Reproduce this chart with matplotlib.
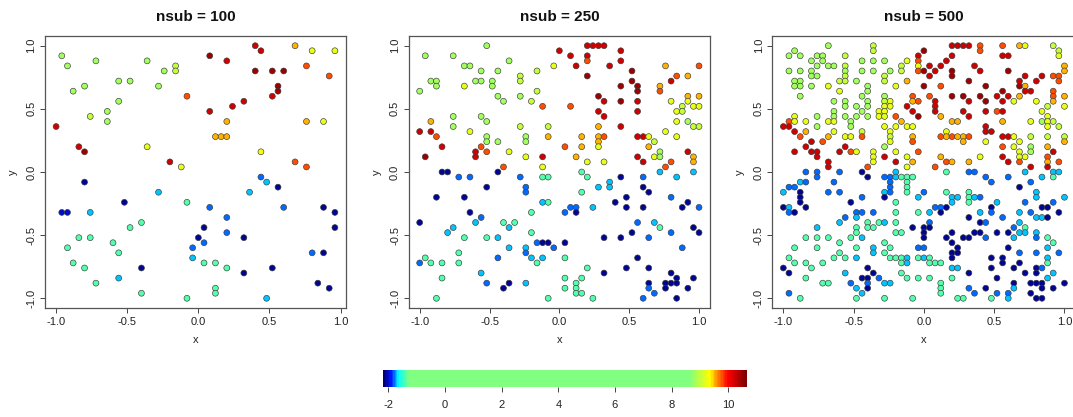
import matplotlib
matplotlib.use("Agg")
import matplotlib.pyplot as plt
from matplotlib.colors import LinearSegmentedColormap, Normalize
from matplotlib.cm import ScalarMappable

plt.rcParams['font.family'] = ['Liberation Sans', 'DejaVu Sans']
plt.rcParams['axes.unicode_minus'] = False

# ---------------- data ----------------
titles = ["nsub = 100", "nsub = 250", "nsub = 500"]
axis_ticks = [-1.0, -0.5, 0.0, 0.5, 1.0]
axis_tick_labels = ["-1.0", "-0.5", "0.0", "0.5", "1.0"]
cbar_ticks = [-2, 0, 2, 4, 6, 8, 10]
z_min, z_max = -2.18, 10.65

# colour scale stops (value, colour)
cmap_values = [-2.18, -1.92, -1.66, -1.30, 8.65, 9.37, 9.66, 10.00, 10.65]
cmap_colors = ["#00007a", "#0018ff", "#00ffff", "#80ff80", "#80ff80",
               "#ffff00", "#ff8000", "#ff0000", "#7f0000"]

# nsub = 100
x1 = [-0.96, -0.92, -0.88, -0.80, -0.72, -0.76, -0.64, -0.64, -0.56, -0.56,
      -0.48, -0.36, -0.28, -0.24, -0.16, -0.16, -0.36, -0.12, -0.20, -1.00,
      -0.84, -0.80, -0.08, 0.08, 0.08, 0.20, 0.24, 0.32, 0.20, 0.12,
      0.16, 0.20, 0.40, 0.44, 0.40, 0.52, 0.60, 0.56, 0.56, 0.52,
      0.68, 0.80, 0.96, 0.76, 0.92, 0.76, 0.88, 0.44, 0.68, 0.76,
      -0.80, -0.96, -0.92, -0.76, -0.52, -0.28, -0.08, -0.40, -0.48, -0.84,
      -0.76, -0.92, -0.60, -0.56, -0.88, -0.80, -0.72, -0.56, -0.40, -0.40,
      -0.08, -0.04, -0.04, 0.00, 0.04, 0.04, 0.08, 0.04, 0.12, 0.12,
      0.12, 0.20, 0.20, 0.20, 0.32, 0.32, 0.36, 0.44, 0.48, 0.56,
      0.60, 0.52, 0.48, 0.80, 0.88, 0.88, 0.96, 0.96, 0.84, 0.92]
y1 = [0.92, 0.84, 0.64, 0.68, 0.88, 0.44, 0.48, 0.40, 0.72, 0.56,
      0.72, 0.88, 0.68, 0.80, 0.84, 0.80, 0.20, 0.04, 0.08, 0.36,
      0.20, 0.16, 0.60, 0.92, 0.48, 0.88, 0.52, 0.56, 0.40, 0.28,
      0.28, 0.28, 1.00, 0.96, 0.80, 0.80, 0.80, 0.68, 0.64, 0.60,
      1.00, 0.96, 0.96, 0.84, 0.76, 0.40, 0.40, 0.16, 0.08, 0.04,
      -0.08, -0.32, -0.32, -0.32, -0.24, -0.16, -0.24, -0.40, -0.44, -0.52,
      -0.52, -0.60, -0.56, -0.64, -0.72, -0.76, -0.88, -0.84, -0.76, -0.96,
      -1.00, -0.60, -0.68, -0.52, -0.44, -0.56, -0.28, -0.72, -0.72, -0.92,
      -0.96, -0.36, -0.48, -0.76, -0.52, -0.80, -0.16, -0.04, -0.08, -0.12,
      -0.28, -0.76, -1.00, -0.64, -0.64, -0.28, -0.32, -0.44, -0.88, -0.92]
z1 = [8.8, 8.8, 8.8, 8.8, 8.8, 9.0, 8.8, 8.8, 8.8, 8.8,
      8.8, 8.8, 8.8, 8.8, 9.0, 9.0, 9.2, 9.2, 10.2, 10.2,
      10.2, 10.45, 9.75, 10.45, 10.2, 10.2, 10.2, 10.2, 9.5, 9.5,
      9.5, 9.5, 10.2, 10.2, 10.45, 10.45, 10.45, 10.45, 10.45, 10.2,
      9.5, 9.2, 9.2, 9.75, 9.75, 9.5, 9.2, 9.3, 9.75, 9.75,
      -2.1, -2.0, -2.0, -1.68, -2.1, -1.68, -1.38, -1.38, -1.38, -1.38,
      -1.38, -1.38, -1.38, -1.38, -1.38, -1.38, -1.38, -1.68, -2.1, -1.38,
      -1.38, -1.8, -1.68, -2.1, -2.1, -1.8, -1.8, -1.38, -1.38, -1.38,
      -1.38, -1.8, -1.8, -1.38, -2.1, -2.1, -1.68, -1.8, -1.68, -2.1,
      -1.8, -2.1, -1.68, -1.8, -2.1, -2.1, -2.1, -2.1, -2.1, -2.1]

# grid rows shared by nsub = 250 and nsub = 500
row_y = [1.00, 0.96, 0.92, 0.88, 0.84, 0.80, 0.76, 0.72, 0.68, 0.64,
         0.60, 0.56, 0.52, 0.48, 0.44, 0.40, 0.36, 0.32, 0.28, 0.24,
         0.20, 0.16, 0.12, 0.08, 0.04, 0.00, -0.04, -0.08, -0.12, -0.16,
         -0.20, -0.24, -0.28, -0.32, -0.36, -0.40, -0.44, -0.48, -0.52, -0.56,
         -0.60, -0.64, -0.68, -0.72, -0.76, -0.80, -0.84, -0.88, -0.92, -0.96,
         -1.00]

# nsub = 250 : x positions and values per row
rows_x2 = [
    [-0.52, 0.20, 0.24, 0.28, 0.32],
    [0.00, 0.44],
    [-0.96, -0.76, 0.08, 0.20],
    [-0.36, 0.20, 0.44],
    [-0.68, -0.64, -0.04, 0.12, 0.36, 0.76, 1.00],
    [-0.56, -0.44, -0.16, 0.52],
    [-0.28, 0.20, 0.84, 0.92],
    [-0.92, -0.88, -0.60, -0.56, -0.48, -0.28, 0.52, 0.80],
    [-0.88, -0.68, -0.48, 0.44, 0.56, 0.72],
    [-1.00, -0.16, 0.56, 0.72],
    [-0.44, -0.28, 0.28, 0.92, 1.00],
    [-0.40, -0.20, 0.32, 0.44, 0.56, 0.80, 0.92],
    [-0.12, 0.08, 0.88, 0.96, 1.00],
    [0.28, 0.56, 0.84, 0.88],
    [-0.76, -0.56, 0.32],
    [-0.92, -0.52, 0.84, 0.92],
    [-0.76, -0.28, -0.08, 0.28, 0.44, 0.96, 1.00],
    [-1.00, -0.92, -0.64, 0.76],
    [-0.88, -0.52, -0.24, -0.08, 0.16, 0.28, 0.32, 0.56, 0.60, 0.64, 0.84],
    [-0.52, -0.44, -0.24, 0.28, 0.68],
    [-0.84, -0.56, 0.04, 0.16, 0.28, 0.64],
    [-0.60, -0.52, -0.36, 0.72, 0.92],
    [-0.96, -0.60, -0.24, -0.12, 0.12, 0.56, 0.68, 0.72, 0.96],
    [0.20, 0.32, 0.60, 0.80, 0.96],
    [-0.40, -0.12, 0.76],
    [-0.84, -0.80, -0.44, 0.16, 0.72, 0.96],
    [-0.72, -0.64, -0.28, -0.12, -0.08, 0.20, 0.44, 0.60, 0.84],
    [0.36],
    [-0.52, -0.24, 0.28, 0.36, 0.60],
    [-0.24, 0.16, 0.64],
    [-0.88, -0.68, 0.48, 0.80],
    [-0.12, -0.08, 0.40, 0.92],
    [0.08, 0.12, 0.24, 0.48, 0.60, 0.88, 1.00],
    [-0.64, -0.20, 0.04, 0.12],
    [-0.56],
    [-1.00, -0.60, -0.40, -0.32, 0.56, 0.68],
    [-0.76, -0.36, 0.72, 0.96],
    [-0.80, -0.20, 0.52, 0.80, 1.00],
    [-0.68, -0.52, -0.44, 0.32, 0.44, 0.64],
    [-0.16, -0.12, -0.08, 0.04],
    [-0.36, -0.24, -0.04, 0.88],
    [-0.72, -0.24],
    [-0.96, -0.44, -0.20, -0.12, 0.04, 0.56],
    [-1.00, -0.92, -0.84, -0.72, -0.16],
    [0.20, 0.48, 0.64],
    [-0.56, 0.32, 0.80],
    [-0.84, 0.04, 0.16, 0.84, 0.96],
    [-0.52, -0.36, -0.24, 0.12, 0.64, 0.76, 0.80, 0.84],
    [-0.40, 0.04, 0.12, 0.64, 0.76, 0.92],
    [0.12, 0.16, 0.68],
    [-0.88, -0.08, 0.24, 0.60, 0.84],
]
rows_z2 = [
    [8.8, 10.2, 10.2, 10.2, 10.2],
    [10.2, 10.2],
    [8.8, 8.8, 10.2, 10.2],
    [8.8, 9.75, 10.2],
    [8.8, 8.8, 9.2, 10.2, 10.2, 9.5, 9.75],
    [8.8, 8.8, 9.0, 10.45],
    [9.0, 10.45, 9.75, 9.5],
    [8.8, 8.8, 8.8, 8.8, 8.8, 9.0, 10.45, 10.2],
    [8.8, 9.2, 8.8, 10.45, 10.45, 9.5],
    [8.8, 9.0, 10.45, 9.75],
    [8.8, 8.8, 10.45, 9.5, 9.5],
    [8.8, 9.0, 10.2, 10.45, 10.2, 9.2, 9.2],
    [9.75, 9.75, 9.0, 9.2, 9.2],
    [10.2, 10.2, 9.2, 9.0],
    [8.8, 8.8, 10.2],
    [9.5, 8.8, 9.2, 8.8],
    [8.8, 9.0, 9.0, 9.5, 10.2, 9.0, 9.0],
    [10.2, 10.2, 9.2, 9.2],
    [9.75, 8.8, 8.8, 9.5, 9.5, 9.5, 9.75, 10.2, 10.2, 9.2, 9.2],
    [8.8, 8.8, 8.8, 9.5, 9.0],
    [10.2, 9.75, 9.75, 9.5, 9.2, 9.5],
    [10.2, 9.75, 9.2, 8.8, 10.2],
    [10.45, 10.2, 9.2, 10.2, 9.5, 10.2, 9.2, 8.8, 9.5],
    [9.2, 9.2, 10.2, 9.75, 9.5],
    [9.75, 9.2, 9.75],
    [-2.1, -2.1, -2.1, -1.38, -1.68, -1.68],
    [-1.8, -1.8, -1.8, -1.38, -1.38, -1.38, -2.1, -1.8, -1.68],
    [-1.68],
    [-2.1, -1.8, -1.68, -1.68, -2.1],
    [-1.8, -1.38, -2.1],
    [-2.1, -2.1, -2.1, -1.8],
    [-1.68, -1.38, -2.1, -2.1],
    [-1.8, -1.8, -1.68, -2.1, -2.1, -2.1, -1.8],
    [-2.1, -1.38, -1.8, -2.1],
    [-1.8],
    [-2.1, -1.68, -1.38, -1.38, -1.8, -1.68],
    [-1.68, -1.68, -1.38, -2.1],
    [-1.68, -1.38, -2.1, -1.8, -2.1],
    [-1.38, -1.38, -1.68, -2.1, -2.1, -1.8],
    [-1.8, -2.1, -2.1, -2.1],
    [-1.68, -1.68, -1.8, -1.8],
    [-1.38, -1.8],
    [-1.38, -1.8, -1.68, -1.68, -1.38, -2.1],
    [-1.8, -1.38, -1.38, -1.38, -1.38],
    [-1.38, -2.1, -2.1],
    [-1.68, -2.1, -2.1],
    [-1.38, -1.38, -1.38, -2.1, -2.1],
    [-1.8, -2.1, -1.68, -1.38, -2.1, -2.1, -2.1, -2.1],
    [-2.1, -1.38, -1.38, -1.8, -2.1, -2.1],
    [-1.38, -1.38, -1.8],
    [-1.38, -1.38, -1.38, -1.8, -2.1],
]

# nsub = 500 : x positions and values per row
rows_x3 = [
    [-0.68, -0.36, 0.20, 0.24, 0.28, 0.32, 0.40, 0.56, 0.68, 0.72, 0.92],
    [-0.92, -0.36, 0.00, 0.40, 0.96],
    [-0.96, -0.88, -0.76, -0.72, -0.56, -0.04, 0.20, 0.56, 0.60, 0.96],
    [-0.80, -0.72, -0.44, -0.36, -0.28, -0.12, -0.04, 0.16],
    [-0.76, -0.68, -0.64, -0.56, -0.16, -0.04, 0.04, 0.12, 0.36, 1.00],
    [-0.96, -0.88, -0.80, -0.56, -0.44, -0.36, -0.24, -0.16, -0.04, 0.00,
     0.08, 0.20, 0.40, 0.60, 1.00],
    [-0.80, -0.76, -0.56, -0.28, 0.04, 0.20, 0.72, 0.84, 0.92, 0.96],
    [-0.92, -0.88, -0.60, -0.56, -0.48, -0.28, -0.12, 0.32, 0.68, 0.80, 0.96],
    [-0.92, -0.88, -0.80, -0.68, -0.40, -0.20, 0.00, 0.12, 0.44, 0.68, 0.72],
    [-0.60, -0.40, 0.56, 0.72, 0.76, 0.92],
    [-0.88, -0.44, -0.28, -0.08, 0.04, 0.20, 0.28, 0.40, 0.52, 0.60, 0.68, 0.92, 1.00],
    [-0.64, -0.56, -0.40, -0.28, -0.24, -0.08, -0.04, 0.08, 0.32, 0.44, 0.56,
     0.64, 0.80, 0.92],
    [-0.56, -0.48, -0.40, -0.28, -0.24, -0.12, 0.08, 0.88, 1.00],
    [-0.64, -0.44, -0.32, -0.28, -0.08, 0.08, 0.28, 0.44, 0.52, 0.56, 0.84],
    [-0.92, -0.76, -0.64, -0.56, -0.48, -0.40, -0.32, -0.28, -0.20, -0.04,
     0.12, 0.32, 0.88],
    [-0.96, -0.92, -0.84, -0.68, -0.64, -0.52, -0.16, 0.20, 0.24, 0.56, 0.76,
     0.84, 0.88, 0.92],
    [-1.00, -0.96, -0.76, -0.52, -0.28, -0.20, -0.12, -0.08, 0.44, 0.88, 0.96],
    [-0.92, -0.84, -0.64, -0.44, -0.24, 0.16, 0.44, 0.48],
    [-0.88, -0.68, -0.56, -0.52, -0.44, -0.24, -0.08, 0.12, 0.16, 0.20, 0.24,
     0.28, 0.32, 0.56, 0.60, 0.64, 0.76, 0.88, 1.00],
    [-0.80, -0.72, -0.24, -0.08, 0.28, 0.44, 0.68, 1.00],
    [-0.84, -0.56, -0.28, 0.56, 0.64, 0.76, 0.88],
    [-0.92, -0.80, -0.76, -0.60, -0.52, -0.48, -0.36, -0.20, -0.04, 0.68,
     0.76, 0.92],
    [-0.76, -0.36, -0.28, -0.12, 0.12, 0.40, 0.56, 0.68, 0.72, 0.88],
    [-0.68, -0.36, -0.20, -0.08, 0.16, 0.20, 0.32, 0.60, 0.68, 0.88, 0.96],
    [-0.68, -0.40, -0.12, 0.08, 0.76, 0.88],
    [-0.84, -0.76, -0.60, -0.44, -0.20, 0.16, 0.32, 0.36, 0.72, 0.92, 0.96],
    [-0.76, -0.40, -0.28, -0.24, -0.20, -0.16, -0.12, -0.08, 0.44, 0.60, 0.84, 0.92],
    [-0.88, -0.84, -0.64, -0.24, -0.12, 0.48, 0.76],
    [-0.96, -0.92, -0.24, -0.12, 0.68],
    [-1.00, -0.88, -0.68, -0.60, -0.28, -0.24, -0.12, 0.00, 0.16, 0.32, 0.80],
    [-0.88, -0.44, -0.28, -0.04, 0.20, 0.24, 0.32, 0.36, 0.40, 0.80, 1.00],
    [-0.88, -0.52, -0.20, 0.20, 0.32, 0.52, 0.72, 0.92],
    [-1.00, -0.96, -0.84, 0.08, 0.12, 0.16, 0.48, 0.84, 0.88],
    [-0.96, -0.92, -0.48, -0.44, -0.36, -0.20, -0.04, 0.04, 0.12, 0.40, 0.48,
     0.68, 0.76, 0.96],
    [-0.56, -0.48, 0.32, 0.56, 0.80, 0.84, 0.88],
    [-0.60, -0.40, -0.32, -0.28, -0.20, 0.04, 0.40, 0.44, 0.68],
    [-0.76, -0.48, -0.40, -0.36, -0.08, 0.00, 0.04, 0.64, 0.72],
    [-0.48, -0.20, -0.16, 0.00, 0.20, 0.36, 0.40, 0.52, 0.60, 0.68, 0.72, 0.80],
    [-0.84, -0.76, -0.68, -0.52, -0.44, 0.00, 0.16, 0.28, 0.32, 0.44, 0.64,
     0.80, 0.88],
    [-0.60, -0.28, 0.20, 0.92],
    [-0.92, -0.76, -0.48, -0.36, -0.24, -0.04, 0.00, 0.24, 0.60, 0.88],
    [-0.60, -0.36, -0.28, 0.20, 0.24, 0.68, 0.80, 0.96],
    [-0.96, -0.64, -0.56, -0.48, -0.24, -0.20, -0.16, -0.12, -0.04, 0.00,
     0.04, 0.20, 0.48, 0.56, 0.88],
    [-0.92, -0.84, -0.72, -0.16, -0.12, 0.04, 0.08, 0.12, 0.56, 0.68, 0.88],
    [-1.00, -0.80, -0.40, 0.20, 0.24, 0.48, 0.64, 0.80, 0.84],
    [-0.96, -0.56, -0.36, -0.16, 0.32, 0.72, 0.80, 0.92],
    [-0.84, -0.44, -0.40, -0.32, -0.12, -0.04, 0.04, 0.20, 0.52, 0.88],
    [-0.72, -0.68, -0.52, -0.40, -0.28, -0.24, 0.12, 0.64, 0.76, 0.80, 0.84, 1.00],
    [-0.48, -0.40, 0.12, 0.32, 0.44, 0.64, 0.84, 0.92],
    [-0.96, -0.44, 0.12, 0.36, 0.52, 0.60, 0.76],
    [-0.88, -0.48, -0.28, -0.08, 0.24, 0.28, 0.48, 0.60, 0.80, 0.84],
]
rows_z3 = [
    [8.8, 9.0, 10.2, 10.2, 10.2, 10.2, 9.75, 9.75, 9.5, 9.2, 9.0],
    [8.8, 9.0, 10.45, 9.75, 9.0],
    [8.8, 8.8, 8.8, 8.8, 9.0, 10.2, 10.2, 10.2, 10.2, 9.2],
    [8.8, 8.8, 8.8, 8.8, 8.8, 9.2, 9.75, 10.2],
    [8.8, 8.8, 8.8, 9.0, 9.0, 9.2, 10.2, 10.2, 10.2, 9.5],
    [8.8, 8.8, 8.8, 8.8, 8.8, 8.8, 8.8, 9.0, 9.75, 10.45,
     10.2, 10.45, 10.2, 10.45, 9.5],
    [8.8, 8.8, 9.0, 9.0, 10.2, 10.45, 10.2, 10.2, 9.75, 9.75],
    [8.8, 8.8, 9.0, 9.0, 8.8, 9.0, 9.5, 10.45, 10.2, 10.2, 9.75],
    [8.8, 8.8, 8.8, 9.2, 8.8, 9.2, 10.45, 9.75, 10.45, 10.45, 9.5],
    [9.2, 8.8, 10.45, 10.2, 10.2, 9.75],
    [8.8, 8.8, 8.8, 9.75, 9.75, 10.45, 10.45, 10.45, 10.2, 10.2, 9.5, 9.75, 9.5],
    [8.8, 8.8, 8.8, 9.0, 9.2, 9.5, 9.75, 10.2, 10.2, 10.45, 10.2,
     9.2, 9.2, 9.5],
    [8.8, 8.8, 8.8, 9.2, 9.2, 10.2, 10.2, 9.0, 9.2],
    [8.8, 8.8, 9.2, 9.2, 10.2, 10.2, 10.2, 10.2, 9.75, 10.2, 9.2],
    [9.2, 8.8, 8.8, 8.8, 8.8, 8.8, 9.2, 9.2, 9.75, 10.45,
     9.5, 10.2, 9.2],
    [9.75, 9.2, 9.2, 9.2, 9.2, 8.8, 9.5, 9.5, 9.5, 9.5, 9.2,
     8.8, 9.2, 9.0],
    [10.2, 10.2, 8.8, 8.8, 9.2, 9.2, 9.2, 9.2, 10.2, 9.2, 9.0],
    [10.2, 9.5, 9.2, 9.0, 9.2, 9.2, 10.2, 10.2],
    [9.75, 9.5, 9.2, 9.2, 9.75, 9.0, 9.5, 9.75, 9.5, 9.75, 9.5,
     9.5, 9.75, 10.2, 10.2, 9.2, 9.0, 9.0, 9.0],
    [10.2, 9.75, 9.2, 9.75, 9.5, 9.2, 9.2, 9.5],
    [10.2, 10.2, 8.8, 9.75, 9.2, 8.8, 9.5],
    [10.2, 10.2, 10.2, 10.2, 9.75, 9.2, 9.2, 9.2, 9.75, 9.2,
     8.8, 10.2],
    [10.2, 9.2, 10.2, 9.2, 9.5, 9.2, 10.2, 9.2, 9.2, 9.75],
    [10.2, 9.2, 10.2, 9.5, 9.75, 9.5, 9.5, 10.2, 9.75, 9.5, 9.75],
    [10.2, 9.75, 9.2, 9.75, 10.2, 10.2],
    [-1.8, -1.8, -1.8, -2.1, -1.68, -1.38, -1.8, -1.8, -1.68, -1.68, -1.68],
    [-1.8, -2.1, -1.8, -1.8, -1.68, -1.38, -1.38, -1.38, -1.8, -1.8, -1.68, -1.38],
    [-1.68, -1.8, -1.8, -1.8, -1.38, -1.8, -1.8],
    [-1.8, -1.8, -1.8, -1.38, -2.1],
    [-1.68, -2.1, -1.8, -1.8, -1.68, -1.8, -1.38, -1.8, -1.38, -1.38, -1.68],
    [-2.1, -1.8, -2.1, -1.68, -1.68, -1.68, -1.38, -1.68, -1.8, -1.68, -1.68],
    [-2.1, -2.1, -1.38, -1.68, -1.38, -1.68, -1.8, -1.8],
    [-2.1, -1.68, -2.1, -1.8, -1.8, -2.1, -2.1, -2.1, -2.1],
    [-1.8, -2.1, -1.8, -1.8, -1.8, -1.38, -1.38, -1.68, -2.1, -1.68, -1.8,
     -1.68, -1.8, -2.1],
    [-1.8, -1.68, -2.1, -1.8, -1.68, -1.68, -2.1],
    [-1.68, -1.38, -1.38, -1.68, -1.38, -1.8, -2.1, -1.8, -1.68],
    [-1.68, -1.38, -1.38, -1.38, -2.1, -2.1, -2.1, -1.8, -1.38],
    [-1.38, -1.38, -1.38, -2.1, -2.1, -2.1, -2.1, -2.1, -2.1, -1.68, -1.68, -1.68],
    [-1.38, -1.38, -1.38, -1.38, -1.68, -2.1, -2.1, -2.1, -2.1, -1.8, -1.68,
     -1.8, -1.38],
    [-1.38, -1.38, -2.1, -1.38],
    [-1.38, -1.38, -1.38, -1.68, -1.38, -1.8, -1.8, -2.1, -2.1, -1.68],
    [-1.38, -1.68, -1.38, -2.1, -2.1, -1.8, -1.8, -1.8],
    [-1.38, -1.38, -1.38, -1.68, -1.38, -1.38, -1.38, -1.68, -1.38, -1.68,
     -1.38, -2.1, -2.1, -2.1, -1.68],
    [-1.38, -1.38, -1.38, -1.38, -1.68, -1.38, -1.38, -1.38, -2.1, -2.1, -1.38],
    [-2.1, -1.38, -2.1, -1.68, -1.68, -2.1, -2.1, -2.1, -1.8],
    [-2.1, -1.68, -2.1, -1.38, -2.1, -2.1, -2.1, -1.68],
    [-1.38, -2.1, -2.1, -1.8, -1.38, -1.38, -1.38, -1.38, -2.1, -1.68],
    [-1.38, -1.38, -1.8, -1.8, -1.68, -1.68, -1.38, -2.1, -2.1, -2.1, -2.1, -2.1],
    [-1.68, -2.1, -1.38, -1.8, -2.1, -1.68, -2.1, -2.1],
    [-1.8, -1.68, -1.38, -1.8, -1.8, -1.8, -2.1],
    [-1.38, -1.38, -1.38, -1.38, -1.38, -1.38, -1.38, -1.68, -2.1, -2.1],
]


def flatten_rows(ys, rows_x, rows_z):
    xs, yy, zs = [], [], []
    for yv, rx, rz in zip(ys, rows_x, rows_z):
        assert len(rx) == len(rz)
        xs.extend(rx)
        yy.extend([yv] * len(rx))
        zs.extend(rz)
    return xs, yy, zs


x2, y2, z2 = flatten_rows(row_y, rows_x2, rows_z2)
x3, y3, z3 = flatten_rows(row_y, rows_x3, rows_z3)

# ---------------- figure ----------------
W, H = 1073, 417
fig = plt.figure(figsize=(W / 100, H / 100), dpi=100)
fig.patch.set_facecolor("white")

stops = [(v - z_min) / (z_max - z_min) for v in cmap_values]
cmap = LinearSegmentedColormap.from_list("fieldmap", list(zip(stops, cmap_colors)))
norm = Normalize(vmin=z_min, vmax=z_max)


def add_px_axes(left, top, right, bottom):
    return fig.add_axes([left / W, 1 - bottom / H, (right - left) / W, (bottom - top) / H])


panels = [
    (x1, y1, z1, (45.0, 346.0), (-1.078, 1.038)),
    (x2, y2, z2, (408.5, 710.2), (-1.08, 1.08)),
    (x3, y3, z3, (772.1, 1075.7), (-1.08, 1.08)),
]
top_px, bottom_px = 35.6, 308.4
spine_col = "#555555"

for (xs, ys, zs, (lpx, rpx), xlim), title in zip(panels, titles):
    ax = add_px_axes(lpx, top_px, rpx, bottom_px)
    ax.scatter(xs, ys, c=zs, cmap=cmap, norm=norm, s=18,
               edgecolors="#3a3a3a", linewidths=0.45, zorder=3)
    ax.set_xlim(*xlim)
    ax.set_ylim(-1.08, 1.08)
    ax.set_xticks(axis_ticks)
    ax.set_xticklabels(axis_tick_labels)
    ax.set_yticks(axis_ticks)
    ax.set_yticklabels(axis_tick_labels, rotation=90, va="center")
    ax.tick_params(direction="out", length=3.6, width=0.7, colors="#444444",
                   labelsize=8, labelcolor="#222222", pad=2.5)
    for sp in ax.spines.values():
        sp.set_color(spine_col)
        sp.set_linewidth(0.9)
    ax.set_xlabel("x", fontsize=8, color="#222222")
    ax.set_ylabel("y", fontsize=8, color="#222222")
    ax.xaxis.set_label_coords(0.5, -(335 - bottom_px) / (bottom_px - top_px))
    ax.yaxis.set_label_coords(-27.0 / (rpx - lpx), 0.5)
    fig.text((lpx + rpx) / 2 / W, 1 - 17 / H, title, ha="center", va="center",
             fontsize=11, fontweight="bold", color="#111111")

# colour bar
cax = add_px_axes(383.3, 370.0, 746.7, 386.7)
cb = fig.colorbar(ScalarMappable(norm=norm, cmap=cmap), cax=cax, orientation="horizontal")
cb.outline.set_visible(False)
cb.set_ticks(cbar_ticks)
cb.set_ticklabels([str(t) for t in cbar_ticks])
cax.tick_params(direction="out", length=3.6, width=0.7, colors="#444444",
                labelsize=8, labelcolor="#222222", pad=6)

fig.savefig("out.png", dpi=100, facecolor="white")
